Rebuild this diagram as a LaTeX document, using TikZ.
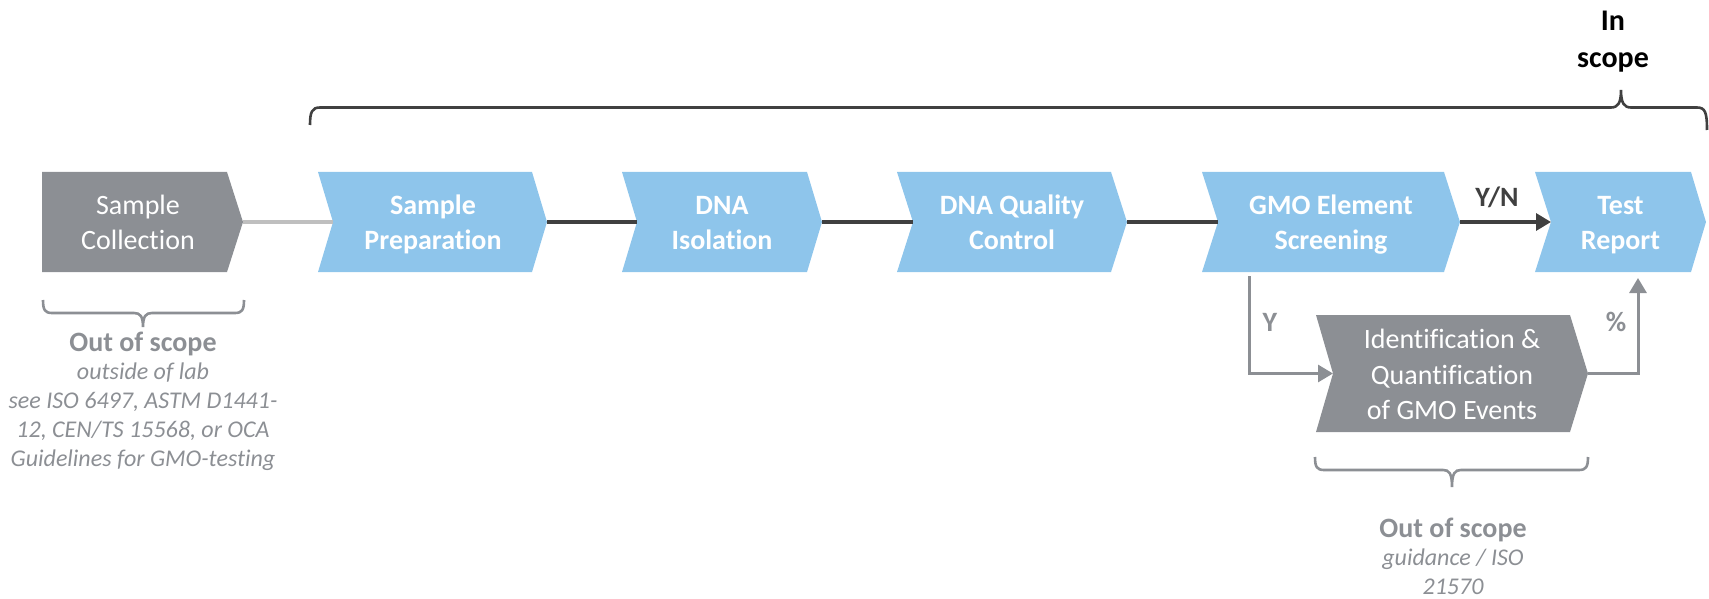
\documentclass[tikz,border=0pt]{standalone}
\usepackage{fontspec}
\setmainfont{Carlito}[Ligatures=NoCommon]
\usetikzlibrary{arrows.meta}
\definecolor{chevblue}{RGB}{142,197,235}
\definecolor{chevgrey}{RGB}{140,143,148}
\definecolor{darkline}{RGB}{64,64,64}
\definecolor{lightline}{RGB}{191,191,191}
% #1 name, #2 left x, #3 flat right x, #4 tip x, #5 notch x, #6 top y, #7 bottom y, #8 fill colour
\newcommand{\chevshape}[8]{%
  \fill[#8] (#2,#6) -- (#3,#6) -- (#4,{(#6+#7)/2}) -- (#3,#7) -- (#2,#7) -- (#5,{(#6+#7)/2}) -- cycle;
  \coordinate (#1-tip) at (#4,{(#6+#7)/2});
  \coordinate (#1-in) at (#5,{(#6+#7)/2});
}
\tikzset{
  boxtext/.style={text=white, align=center, inner sep=0pt, font=\fontsize{28}{34.5}\selectfont},
  boldbox/.style={text=white, align=center, inner sep=0pt, font=\fontsize{28}{34.5}\selectfont\bfseries},
  lbl/.style={inner sep=0pt, font=\fontsize{28}{34}\selectfont\bfseries},
  oostitle/.style={inner sep=0pt, text=chevgrey, font=\fontsize{28}{34}\selectfont\bfseries},
  oosnote/.style={inner sep=0pt, text=chevgrey, align=center, font=\fontsize{24}{29}\selectfont\itshape},
  flowline/.style={draw=darkline, line width=3.3pt},
  lightflow/.style={draw=lightline, line width=3.3pt},
  darkarrow/.style={draw=darkline, line width=3.3pt, -{Triangle[length=15pt,width=17pt]}},
  greyarrow/.style={draw=chevgrey, line width=3pt, -{Triangle[length=15pt,width=17pt]}},
  bracedark/.style={draw=darkline, line width=2.6pt},
  bracegrey/.style={draw=chevgrey, line width=2.6pt},
}
\begin{document}
\begin{tikzpicture}[x=1pt, y=-1pt]
\useasboundingbox (0,0) rectangle (1709,599);

% chevrons
\chevshape{sc}{42}{227}{243}{42}{172}{272}{chevgrey}
\chevshape{sp}{318}{532}{547}{333}{172}{272}{chevblue}
\chevshape{di}{622}{807}{822}{637}{172}{272}{chevblue}
\chevshape{dq}{897}{1111}{1127}{913}{172}{272}{chevblue}
\chevshape{gs}{1202}{1444}{1460}{1218}{172}{272}{chevblue}
\chevshape{tr}{1535}{1691}{1706}{1551}{172}{272}{chevblue}
\chevshape{iq}{1316}{1570}{1588}{1333}{315}{432}{chevgrey}

% box texts
\node[boxtext] (sc) at (138,225) {\strut Sample\\\strut Collection};
\node[boldbox] (sp) at (433,225) {\strut Sample\\\strut Preparation};
\node[boldbox] (di) at (722,225) {\strut DNA\\\strut Isolation};
\node[boldbox] (dq) at (1012,225) {\strut DNA Quality\\\strut Control};
\node[boldbox] (gs) at (1331,225) {\strut GMO Element\\\strut Screening};
\node[boldbox] (tr) at (1620.5,225) {\strut Test\\\strut Report};
\node[boxtext, font=\fontsize{28}{35.2}\selectfont] (iq) at (1452,377) {\strut Identification \&\\\strut Quantification\\\strut of GMO Events};

% connectors
\coordinate (gs-down) at (1249,276);
\coordinate (tr-up) at (1638,272);
\draw[lightflow] (sc-tip) -- (sp-in);
\draw[flowline] (sp-tip) -- (di-in);
\draw[flowline] (di-tip) -- (dq-in);
\draw[flowline] (dq-tip) -- (gs-in);
\draw[darkarrow] (gs-tip) -- (tr-in);
\draw[greyarrow] (gs-down) |- (iq-in);
\draw[greyarrow, shorten >=6pt] (iq-tip) -| (tr-up);

% connector labels
\node[lbl, text=darkline, anchor=base] (yn) at (1497,206) {Y/N};
\node[lbl, text=chevgrey, anchor=base] (ylab) at (1270,331) {Y};
\node[lbl, text=chevgrey, anchor=base] (pct) at (1616,331) {\%};

% in scope brace
\draw[bracedark] (310,125) .. controls (310,112) and (312,107.5) .. (320,107.5) -- (1611,107.5)
  .. controls (1618,107.5) and (1621,103) .. (1621,90)
  .. controls (1621,103) and (1624,107.5) .. (1631,107.5) -- (1697,107.5)
  .. controls (1705,107.5) and (1707,112) .. (1707,130);
\node[inner sep=0pt, align=center, font=\fontsize{30}{37}\selectfont\bfseries] (inscope) at (1613,42) {\strut In\\\strut scope};

% left out of scope
\draw[bracegrey] (43,300) .. controls (43,310) and (45,313) .. (52,313) -- (134,313)
  .. controls (140,313) and (143,316) .. (143,327)
  .. controls (143,316) and (146,313) .. (152,313) -- (235,313)
  .. controls (242,313) and (244,310) .. (244,300);
\node[oostitle, anchor=base] (oos1) at (143,351) {Out of scope};
\node[oosnote] (note1) at (143,416.7) {\strut outside of lab\\\strut see ISO 6497, ASTM D1441-\\\strut 12, CEN/TS 15568, or OCA\\\strut Guidelines for GMO-testing};

% right out of scope
\draw[bracegrey] (1315,457) .. controls (1315,467) and (1317,470) .. (1324,470) -- (1443,470)
  .. controls (1449,470) and (1452,473) .. (1452,487)
  .. controls (1452,473) and (1455,470) .. (1461,470) -- (1579,470)
  .. controls (1586,470) and (1588,467) .. (1588,457);
\node[oostitle, anchor=base] (oos2) at (1453,537) {Out of scope};
\node[oosnote] (note2) at (1453,573.7) {\strut guidance / ISO\\\strut 21570};
\end{tikzpicture}
\end{document}
